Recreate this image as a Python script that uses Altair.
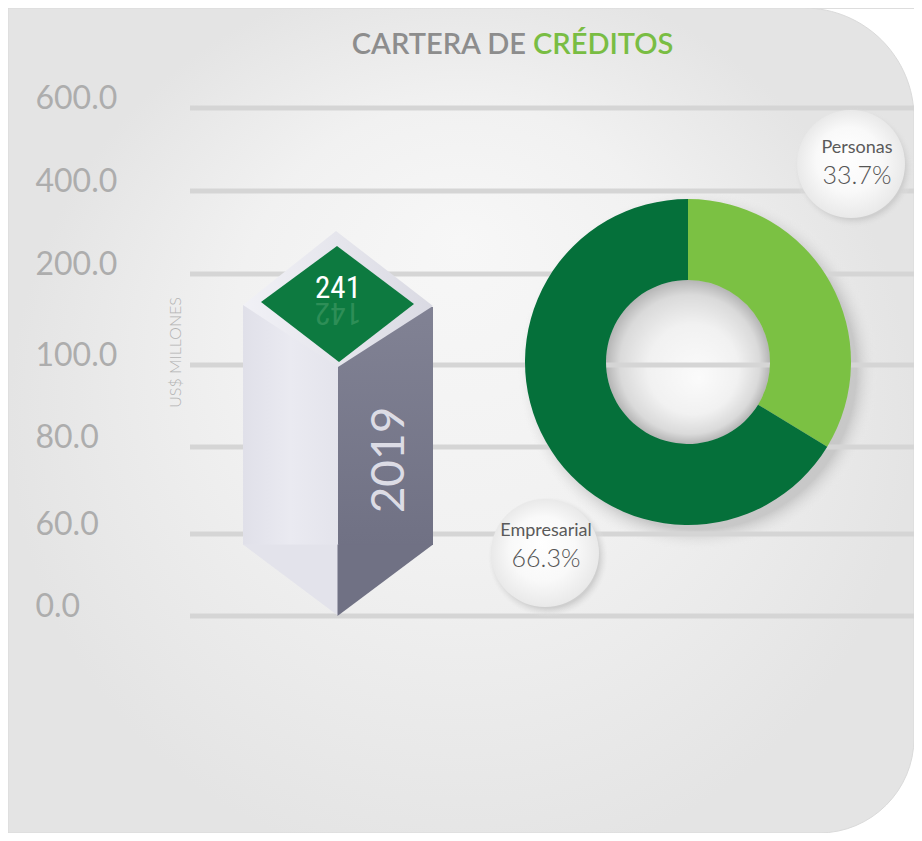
import altair as alt
import pandas as pd

# ---------------- data ----------------
years = ["2019"]
cartera = [241]                       # US$ millones
y_ticks = [0, 60, 80, 100, 200, 400, 600]
categories = ["Personas", "Empresarial"]
shares = [33.7, 66.3]                 # %
title_parts = ["CARTERA DE", "CRÉDITOS"]
axis_title = "US$ MILLONES"

# ---------------- layout / style ----------------
W, H = 906, 825
Y_RANGE = [608, 526, 439, 357, 266, 183, 100]   # piecewise pixel positions of the ticks
FONT = "Lato"
NARROW = "'Liberation Sans Narrow', 'Roboto Condensed', Lato"

yscale = alt.Scale(type="linear", domain=y_ticks, range=Y_RANGE)
yaxis = alt.Axis(
    values=y_ticks, format=".1f", title=axis_title,
    domain=False, ticks=False, tickSize=0, grid=False,
    labelAlign="left", labelBaseline="alphabetic", labelPadding=-27,
    labelFlush=False, labelOverlap=False, labelBound=False,
    labelFont=FONT, labelFontSize=32, labelFontWeight="normal", labelColor="#adadad",
    titleFont=FONT, titleFontSize=16, titleFontWeight=300, titleColor="#b3b3b3",
    titleAngle=270, titleX=167, titleY=344, titleAlign="center", titleBaseline="middle",
    zindex=3,
)
xscale = alt.Scale(type="band", domain=years, range=[235, 425], paddingInner=0, paddingOuter=0)
X = alt.X("year:N", scale=xscale, axis=None)
Y = alt.Y("value:Q", scale=yscale, axis=yaxis)

def lin(stops, x2=1, y2=0):
    return {"gradient": "linear", "x1": 0, "y1": 0, "x2": x2, "y2": y2,
            "stops": [{"offset": o, "color": c} for o, c in stops]}

def rad(stops, x1=0.5, y1=0.5):
    return {"gradient": "radial", "x1": x1, "y1": y1, "r1": 0, "x2": 0.5, "y2": 0.5, "r2": 0.5,
            "stops": [{"offset": o, "color": c} for o, c in stops]}

box_df = pd.DataFrame({"year": years, "value": cartera})
# mirrored digits for the glossy reflection under the value (rotated 180°)
box_df["rev"] = [str(v)[::-1] for v in cartera]
donut_df = pd.DataFrame({"category": categories, "share": shares})
tick_df = pd.DataFrame({"value": y_ticks})
one = pd.DataFrame({"k": [0]})

# background card
panel = alt.Chart(one).mark_rect(
    cornerRadiusTopRight=110, cornerRadiusBottomRight=95,
    color=rad([(0, "#f7f7f7"), (0.5, "#f1f1f1"), (1, "#e4e4e4")], x1=0.5, y1=0.3),
    stroke="#dadada", strokeWidth=1,
).encode(x=alt.value(0), x2=alt.value("width"), y=alt.value(0), y2=alt.value("height"))

# donut shadow and hole
CX, CY = 680, 354
donut_shadow = alt.Chart(one).mark_point(
    shape="circle", filled=True, opacity=1, size=4 * 180 ** 2,
    fill=rad([(0, "#c4c4c4"), (0.88, "#c8c8c8"), (1, "rgba(236,236,236,0)")]),
).encode(x=alt.value(CX + 10), y=alt.value(CY + 9))

hole = alt.Chart(one).mark_point(
    shape="circle", filled=True, opacity=1, size=4 * 82 ** 2,
    fill=rad([(0, "#fbfbfb"), (0.55, "#f1f1f1"), (0.85, "#dadada"), (1, "#b5b5b5")], x1=0.57, y1=0.6),
).encode(x=alt.value(CX), y=alt.value(CY))

# gridlines
grid = alt.Chart(tick_df).mark_rule(strokeWidth=5, color="#d5d5d5").encode(
    y=Y, x=alt.value(182), x2=alt.value("width"))

# 3D box for the 2019 value
left_face = alt.Chart(box_df).mark_bar(
    width=95, xOffset=-47.5, yOffset=48, y2Offset=-71,
    color=lin([(0, "#e0e0e9"), (0.5, "#eaeaf1"), (1, "#e4e4ec")]),
).encode(x=X, y=Y, y2=alt.datum(0))
right_face = alt.Chart(box_df).mark_bar(
    width=95, xOffset=47.5, yOffset=50, y2Offset=-71,
    color=lin([(0, "#818294"), (1, "#707184")], x2=0, y2=1),
).encode(x=X, y=Y, y2=alt.datum(0))
left_bottom = alt.Chart(box_df).mark_point(
    shape="M -95 -71.5 L 0.5 -71.5 L 0.5 0 Z", size=4, filled=True, opacity=1, fill="#e3e3eb",
).encode(x=X, y=alt.datum(0))
right_bottom = alt.Chart(box_df).mark_point(
    shape="M -0.5 -71.5 L 95 -71.5 L -0.5 0 Z", size=4, filled=True, opacity=1, fill="#707184",
).encode(x=X, y=alt.datum(0))
rim = alt.Chart(box_df).mark_point(
    shape="M -2 -26 L 95 49 L 0 110 L -95 48 Z", size=4, filled=True, opacity=1,
    fill=lin([(0, "#f1f1f6"), (1, "#dadae3")]),
).encode(x=X, y=Y)
top = alt.Chart(box_df).mark_point(
    shape="M -1 -11 L 76 47 L 1 105 L -77 45 Z", size=4, filled=True, opacity=1, fill="#0d7a40",
).encode(x=X, y=Y)
value_label = alt.Chart(box_df).mark_text(
    font=NARROW, fontSize=31, color="#ffffff", baseline="middle", yOffset=32,
).encode(x=X, y=Y, text="value:Q")
reflection = alt.Chart(box_df).mark_text(
    font=NARROW, fontSize=31, color="#5fae7a", opacity=0.4, baseline="middle", angle=180, yOffset=55,
).encode(x=X, y=Y, text="rev:N")
year_label = alt.Chart(box_df).mark_text(
    font=FONT, fontSize=46, fontWeight="normal", color="#dcdce5", angle=270,
    align="center", baseline="middle", xOffset=52, yOffset=-156,
).encode(x=X, y=alt.datum(0), text="year:N")

# donut
ring = alt.Chart(donut_df).mark_arc(innerRadius=82, outerRadius=163).encode(
    theta=alt.Theta("share:Q", stack=True),
    color=alt.Color("category:N", scale=alt.Scale(domain=categories, range=["#7bc143", "#05703a"]), legend=None),
    order=alt.Order("category:N", sort="descending"),
    x=alt.value(CX), y=alt.value(CY),
)

# label bubbles
def bubble(cat, bx, by, tx, ty1, ty2):
    base = alt.Chart(donut_df).transform_filter(alt.datum.category == cat)
    shadow = base.mark_point(
        shape="circle", filled=True, opacity=1, size=4 * 60 ** 2,
        fill=rad([(0, "#c8c8c8"), (0.85, "#cfcfcf"), (1, "rgba(228,228,228,0)")]),
    ).encode(x=alt.value(bx + 3), y=alt.value(by + 4))
    disc = base.mark_point(
        shape="circle", filled=True, opacity=1, size=4 * 54 ** 2,
        fill=rad([(0, "#ffffff"), (0.6, "#f9f9f9"), (1, "#e9e9e9")], x1=0.45, y1=0.4),
    ).encode(x=alt.value(bx), y=alt.value(by))
    name = base.mark_text(font=FONT, fontSize=18, color="#5a5a5a", baseline="middle").encode(
        x=alt.value(tx), y=alt.value(ty1), text="category:N")
    pct = base.transform_calculate(lbl="format(datum.share, '.1f') + '%'").mark_text(
        font=FONT, fontSize=25, fontWeight=300, color="#555555", baseline="middle").encode(
        x=alt.value(tx), y=alt.value(ty2), text="lbl:N")
    return [shadow, disc, name, pct]

bub_p = bubble("Personas", 843, 156, 849, 140, 168)
bub_e = bubble("Empresarial", 537, 545, 538, 523, 551)

# title
title_gray = alt.Chart(pd.DataFrame({"t": [title_parts[0]]})).mark_text(
    font=FONT, fontSize=29, fontWeight=600, color="#8d8d8d", align="right", baseline="alphabetic",
).encode(x=alt.value(518), y=alt.value(46), text="t:N")
title_green = alt.Chart(pd.DataFrame({"t": [title_parts[1]]})).mark_text(
    font=FONT, fontSize=29, fontWeight=600, color="#79bd43", align="left", baseline="alphabetic",
).encode(x=alt.value(525), y=alt.value(46), text="t:N")

chart = alt.layer(
    panel, donut_shadow, hole, grid,
    left_face, right_face, left_bottom, right_bottom, rim, top, value_label, reflection, year_label,
    ring, *bub_p, *bub_e, title_gray, title_green,
).properties(
    width=W, height=H, padding=0,
    autosize=alt.AutoSizeParams(type="none"),
).configure_view(strokeWidth=0).configure(background="#ffffff")

chart.save("out.html", embed_options={"renderer": "svg", "actions": False})
